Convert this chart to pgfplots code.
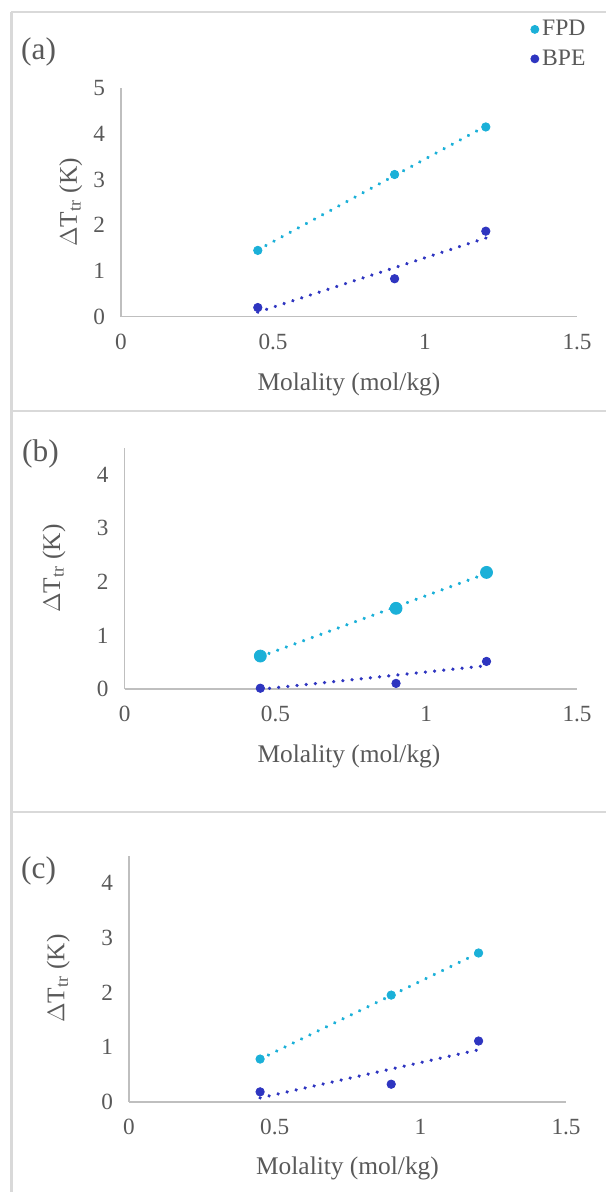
\documentclass[border=0pt]{standalone}
\usepackage{fontspec}
\setmainfont{Liberation Serif}
\usepackage{pgfplots}
\pgfplotsset{compat=1.18}

\definecolor{fpd}{HTML}{1BB0D8}
\definecolor{bpe}{HTML}{2E35C0}
\definecolor{txtgray}{HTML}{595959}
\definecolor{axgray}{HTML}{BFBFBF}
\definecolor{boxgray}{HTML}{D9D9D9}

\pgfplotsset{
  panel/.style={
    scale only axis,
    anchor=south west,
    axis x line=bottom, axis y line=left,
    axis line style={axgray, line width=0.8pt, -},
    xmin=0, xmax=1.5, ymin=0,
    xtick={0,0.5,1,1.5},
    major tick length=0pt,
    tick label style={txtgray, font=\fontsize{11.6}{13}\selectfont},
    xticklabel style={yshift=-5pt},
    yticklabel style={xshift=-4.5pt},
    /pgf/number format/assume math mode=true,
    label style={txtgray, font=\fontsize{12.7}{15}\selectfont},
    xlabel={Molality (mol/kg)},
    ylabel={$\Delta$T\textsubscript{tr} (K)},
    clip=false,
  },
  trend/.style={line width=1.8pt, dash pattern=on 0.01pt off 4.6pt, line cap=round, forget plot},
}

\begin{document}
\begin{tikzpicture}
\path[use as bounding box] (0,0) rectangle (302.5pt,596pt);
% panel frames
\draw[boxgray, line width=1.2pt] (5.7pt,590pt) -- (310pt,590pt);
\draw[boxgray, line width=1.2pt] (5.7pt,-5pt) -- (5.7pt,590pt);
\draw[boxgray, line width=1.2pt] (5.7pt,390.5pt) -- (310pt,390.5pt);
\draw[boxgray, line width=1.2pt] (5.7pt,190pt) -- (310pt,190pt);

% (a)
\begin{axis}[panel,
  at={(60.5pt,437.65pt)}, width=228pt, height=114.3pt,
  ymax=5, ytick={0,1,2,3,4,5},
  xlabel style={at={(axis description cs:0.5,-0.298)}, anchor=center},
  ylabel style={at={(axis description cs:-0.11,0.5)}, anchor=center},
  legend style={draw=none, fill=none, at={(axis description cs:0.897,1.312)}, anchor=north west,
    font=\fontsize{11.8}{13}\selectfont, text=txtgray, row sep=2.5pt,
    inner sep=0pt, nodes={inner sep=1.5pt}},
  legend cell align=left,
  legend image code/.code={\fill[#1] (0.12cm,0cm) circle (2pt);},
]
\addplot[trend, fpd] coordinates {(0.45,1.46) (1.2,4.17)};
\addplot[trend, bpe] coordinates {(0.45,0.10) (1.2,1.72)};
\addplot[only marks, mark=*, mark size=2.1pt, fpd, mark options={draw=fpd, fill=fpd}]
  coordinates {(0.45,1.45) (0.9,3.11) (1.2,4.15)};
\addlegendentry{FPD}
\addplot[only marks, mark=*, mark size=2.1pt, bpe, mark options={draw=bpe, fill=bpe}]
  coordinates {(0.45,0.20) (0.9,0.83) (1.2,1.87)};
\addlegendentry{BPE}
\end{axis}
\node[txtgray, font=\fontsize{15.7}{18}\selectfont] at (19.3pt,570pt) {(a)};

% (b)
\begin{axis}[panel,
  at={(62.3pt,251.35pt)}, width=226.2pt, height=120.65pt,
  ymax=4.5, ytick={0,1,2,3,4},
  xlabel style={at={(axis description cs:0.496,-0.28)}, anchor=center},
  ylabel style={at={(axis description cs:-0.156,0.5)}, anchor=center},
]
\addplot[trend, fpd] coordinates {(0.45,0.61) (1.2,2.16)};
\addplot[trend, bpe] coordinates {(0.45,0.0) (1.2,0.44)};
\addplot[only marks, mark=*, mark size=3pt, fpd, mark options={draw=fpd, fill=fpd}]
  coordinates {(0.45,0.62) (0.9,1.51) (1.2,2.18)};
\addplot[only marks, mark=*, mark size=2.1pt, bpe, mark options={draw=bpe, fill=bpe}]
  coordinates {(0.45,0.02) (0.9,0.11) (1.2,0.52)};
\end{axis}
\node[txtgray, font=\fontsize{15.7}{18}\selectfont] at (20.2pt,369pt) {(b)};

% (c)
\begin{axis}[panel,
  at={(64.5pt,45.15pt)}, width=218.5pt, height=123pt,
  ymax=4.5, ytick={0,1,2,3,4},
  xlabel style={at={(axis description cs:0.5,-0.27)}, anchor=center},
  ylabel style={at={(axis description cs:-0.162,0.5)}, anchor=center},
]
\addplot[trend, fpd] coordinates {(0.45,0.78) (1.2,2.72)};
\addplot[trend, bpe] coordinates {(0.45,0.07) (1.2,0.95)};
\addplot[only marks, mark=*, mark size=2.1pt, fpd, mark options={draw=fpd, fill=fpd}]
  coordinates {(0.45,0.78) (0.9,1.95) (1.2,2.72)};
\addplot[only marks, mark=*, mark size=2.1pt, bpe, mark options={draw=bpe, fill=bpe}]
  coordinates {(0.45,0.18) (0.9,0.32) (1.2,1.11)};
\end{axis}
\node[txtgray, font=\fontsize{15.7}{18}\selectfont] at (19.3pt,160.5pt) {(c)};
\end{tikzpicture}
\end{document}
